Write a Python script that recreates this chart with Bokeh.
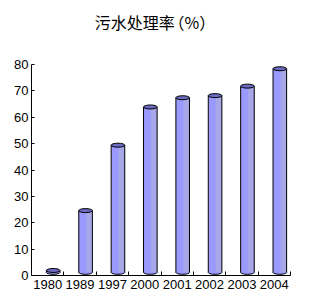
from bokeh.plotting import figure
from bokeh.models import FixedTicker, Range1d, ColumnDataSource, Label
from bokeh.layouts import column
from bokeh.embed import file_html
from bokeh.resources import INLINE

years = ["1980", "1989", "1997", "2000", "2001", "2002", "2003", "2004"]
rates = [0.7, 23.4, 48.2, 62.7, 66.2, 67.0, 70.6, 77.2]
y_ticks = [0, 10, 20, 30, 40, 50, 60, 70, 80]
title_main = "污水处理率"
title_unit = "（%）"

# 3D look offsets (style)
DX = 0.17
DY = 1.2
BW = 0.42

xs = [i + 0.5 for i in range(len(years))]
cx = [x + DX for x in xs]
src = ColumnDataSource(dict(
    x=cx,
    base=[DY] * len(years),
    top=[r + DY for r in rates],
    left=[x - BW / 2 for x in cx],
    right=[x + BW / 2 for x in cx],
    shade_l=[x + BW * 0.05 for x in cx],
))

# title strip
t = figure(width=323, height=57, output_backend="svg", toolbar_location=None,
           x_range=Range1d(0, 323), y_range=Range1d(0, 57),
           min_border=0, min_border_left=0, min_border_right=0, min_border_top=0, min_border_bottom=0)
t.axis.visible = False
t.grid.visible = False
t.outline_line_color = None
t.add_layout(Label(x=79, y=36, text=title_main, text_font="Noto Sans CJK SC",
                   text_font_size="16px", text_align="left", text_baseline="middle",
                   text_color="black"))
t.add_layout(Label(x=171, y=36, text=title_unit, text_font="Noto Sans CJK SC",
                   text_font_size="16px", text_align="left", text_baseline="middle",
                   text_color="black"))

p = figure(width=323, height=246, output_backend="svg", toolbar_location=None,
           x_range=Range1d(0, len(years)), y_range=Range1d(0, 80),
           min_border_left=31, min_border_right=33, min_border_top=7, min_border_bottom=28)
p.outline_line_color = None
p.grid.visible = False
p.background_fill_color = "white"
p.border_fill_color = "white"

# bottom ellipse
p.ellipse(x="x", y="base", width=BW, height=4, height_units="screen", source=src,
          fill_color="#9999ff", line_color="black", line_width=1)
# body
p.vbar(x="x", bottom="base", top="top", width=BW, source=src,
       fill_color="#9999ff", line_color=None)
# shading on the right
p.quad(left="shade_l", right="right", bottom="base", top="top", source=src,
       fill_color="#a8a8e8", line_color=None)
# edges
p.segment(x0="left", y0="base", x1="left", y1="top", source=src, line_color="black", line_width=1)
p.segment(x0="right", y0="base", x1="right", y1="top", source=src, line_color="black", line_width=1)
# top ellipse
p.ellipse(x="x", y="top", width=BW, height=4, height_units="screen", source=src,
          fill_color="#6a6ac0", line_color="black", line_width=1)

xa = p.xaxis[0]
xa.ticker = FixedTicker(ticks=xs, minor_ticks=list(range(len(years) + 1)))
xa.major_label_overrides = {x: y for x, y in zip(xs, years)}
xa.major_tick_in = 0
xa.major_tick_out = 0
xa.minor_tick_in = 4
xa.minor_tick_out = 0
xa.minor_tick_line_color = "black"
xa.axis_line_color = "black"
xa.major_label_text_font = "Liberation Sans"
xa.major_label_text_font_size = "13px"
xa.major_label_text_color = "black"
xa.major_label_standoff = 4

ya = p.yaxis[0]
ya.ticker = FixedTicker(ticks=y_ticks)
ya.major_tick_in = 3
ya.major_tick_out = 0
ya.minor_tick_line_color = None
ya.axis_line_color = "black"
ya.major_label_text_font = "Liberation Sans"
ya.major_label_text_font_size = "13px"
ya.major_label_text_color = "black"
ya.major_label_standoff = 3

layout = column(t, p, spacing=0)
open("out.html", "w").write(file_html(layout, INLINE))
